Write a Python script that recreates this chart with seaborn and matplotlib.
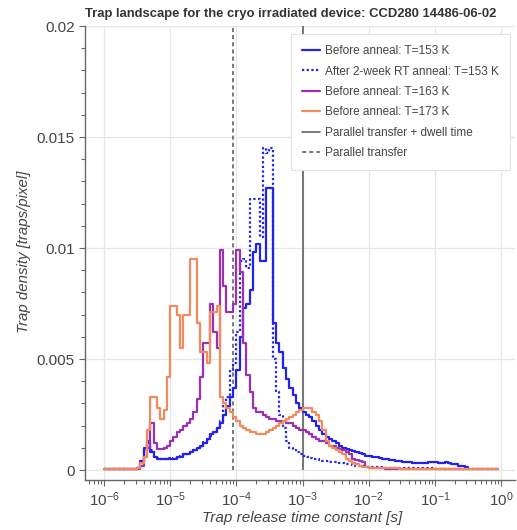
import numpy as np
import pandas as pd
import matplotlib
matplotlib.use("Agg")
import matplotlib.pyplot as plt
from matplotlib.lines import Line2D
from matplotlib.ticker import FixedLocator, LogLocator, MultipleLocator, NullFormatter, FuncFormatter
import seaborn as sns

# ---------------------------------------------------------------------------
# Data: trap density histograms, 20 log-spaced bins per decade from 1e-6 s.
# Values are in units of 1e-3 traps/pixel, one row per decade.
# ---------------------------------------------------------------------------
log_bin_edges = np.round(np.arange(-6.0, 0.0001, 0.05), 2)
bin_edges = 10.0 ** log_bin_edges

density_153K = [
    0.03, 0.03, 0.03, 0.03, 0.03, 0.03, 0.03, 0.03, 0.03, 0.03, 0.1, 0.4, 1.0, 1.3, 0.8, 0.6, 0.5, 0.5, 0.5, 0.5,
    0.5, 0.5, 0.6, 0.6, 0.7, 0.7, 0.8, 0.9, 1.0, 1.1, 1.2, 1.4, 1.6, 1.7, 1.9, 2.1, 2.5, 2.9, 3.3, 3.7,
    4.5, 6.0, 7.3, 7.5, 8.1, 9.8, 10.2, 9.4, 9.4, 12.7, 12.7, 6.6, 5.7, 5.3, 4.6, 4.1, 3.7, 3.4, 3.0, 2.8,
    2.6, 2.5, 2.4, 2.2, 2.0, 1.8, 1.6, 1.5, 1.4, 1.3, 1.2, 1.1, 1.0, 0.95, 0.9, 0.85, 0.8, 0.75, 0.7, 0.65,
    0.62, 0.6, 0.57, 0.54, 0.5, 0.48, 0.45, 0.43, 0.4, 0.4, 0.38, 0.36, 0.34, 0.32, 0.3, 0.3, 0.3, 0.32, 0.38, 0.38,
    0.36, 0.32, 0.3, 0.34, 0.3, 0.27, 0.25, 0.2, 0.18, 0.12,
]

density_153K_annealed = [
    0.03, 0.03, 0.03, 0.03, 0.03, 0.03, 0.03, 0.03, 0.03, 0.03, 0.1, 0.3, 0.9, 1.2, 0.9, 0.6, 0.55, 0.5, 0.5, 0.55,
    0.5, 0.55, 0.6, 0.65, 0.7, 0.75, 0.8, 0.9, 1.0, 1.1, 1.25, 1.4, 1.55, 1.7, 1.9, 2.2, 3.0, 3.3, 4.5, 4.8,
    6.2, 9.4, 9.5, 9.1, 12.2, 12.2, 12.2, 10.5, 14.5, 14.3, 14.5, 5.0, 3.5, 2.5, 1.9, 1.3, 1.0, 0.9, 0.8, 0.7,
    0.65, 0.6, 0.55, 0.5, 0.48, 0.45, 0.42, 0.4, 0.38, 0.36, 0.34, 0.32, 0.3, 0.27, 0.25, 0.22, 0.2, 0.18, 0.16, 0.15,
    0.14, 0.13, 0.13, 0.12, 0.12, 0.11, 0.11, 0.1, 0.1, 0.1, 0.09, 0.09, 0.09, 0.08, 0.08, 0.08, 0.07, 0.07, 0.07, 0.07,
    0.06, 0.06, 0.06, 0.06, 0.06, 0.05, 0.05, 0.05, 0.05, 0.05, 0.05, 0.05, 0.05, 0.05, 0.05, 0.05, 0.05, 0.05, 0.05,
]

density_163K = [
    0.03, 0.03, 0.03, 0.03, 0.03, 0.03, 0.03, 0.03, 0.03, 0.03, 0.03, 0.2, 0.6, 1.0, 2.1, 1.2, 0.95, 0.95, 1.0, 1.1,
    1.3, 1.5, 1.7, 1.8, 2.0, 2.1, 2.3, 2.6, 3.2, 4.2, 5.7, 5.7, 7.5, 6.2, 5.5, 9.9, 8.3, 7.1, 7.1, 7.5,
    9.9, 8.9, 5.7, 4.3, 3.5, 2.8, 2.6, 2.6, 2.5, 2.4, 2.3, 2.3, 2.2, 2.2, 2.2, 2.1, 2.1, 2.0, 1.9, 1.8,
    1.8, 1.7, 1.6, 1.5, 1.4, 1.3, 1.3, 1.2, 1.1, 1.1, 1.0, 0.95, 0.9, 0.8, 0.7, 0.5, 0.45, 0.4, 0.35, 0.12,
    0.09, 0.08, 0.08, 0.07, 0.07, 0.06, 0.06, 0.06, 0.05, 0.05, 0.05, 0.05, 0.05, 0.04, 0.04, 0.04, 0.04, 0.04, 0.04, 0.04,
    0.04, 0.04, 0.04, 0.04, 0.04, 0.04, 0.04, 0.04, 0.04, 0.04, 0.04, 0.04, 0.04, 0.04, 0.04, 0.04, 0.04, 0.04, 0.04,
]

density_173K = [
    0.03, 0.03, 0.03, 0.03, 0.03, 0.03, 0.03, 0.03, 0.03, 0.03, 0.1, 0.3, 0.6, 1.8, 3.3, 3.3, 2.8, 2.3, 2.7, 4.2,
    7.4, 7.4, 7.0, 5.5, 7.0, 7.0, 9.5, 9.5, 6.6, 5.3, 5.3, 4.8, 7.1, 7.1, 7.4, 3.3, 3.0, 2.8, 2.6, 2.4,
    2.2, 2.0, 1.9, 1.8, 1.7, 1.7, 1.6, 1.6, 1.6, 1.7, 1.8, 1.9, 2.0, 2.1, 2.2, 2.3, 2.4, 2.5, 2.6, 2.7,
    2.8, 2.8, 2.8, 2.6, 2.5, 2.2, 1.8, 1.3, 1.1, 1.0, 0.9, 0.8, 0.7, 0.5, 0.4, 0.3, 0.25, 0.2, 0.15, 0.12,
    0.1, 0.1, 0.09, 0.09, 0.08, 0.08, 0.07, 0.07, 0.07, 0.06, 0.06, 0.06, 0.06, 0.05, 0.05, 0.05, 0.05, 0.05, 0.05, 0.05,
    0.05, 0.05, 0.05, 0.05, 0.05, 0.05, 0.05, 0.05, 0.05, 0.05, 0.05, 0.05, 0.05, 0.05, 0.05, 0.05, 0.05, 0.05, 0.05,
]

series_labels = [
    "Before anneal: T=153 K",
    "After 2-week RT anneal: T=153 K",
    "Before anneal: T=163 K",
    "Before anneal: T=173 K",
]
series_values = [density_153K, density_153K_annealed, density_163K, density_173K]

# Reference timescales [s]
parallel_transfer_time = 8.8e-5
parallel_transfer_dwell_time = 1.0e-3
reference_labels = ["Parallel transfer + dwell time", "Parallel transfer"]

title_text = "Trap landscape for the cryo irradiated device: CCD280 14486-06-02"
x_label = "Trap release time constant [s]"
y_label = "Trap density [traps/pixel]"
y_tick_values = [0, 0.005, 0.01, 0.015, 0.02]

# ---------------------------------------------------------------------------
# Styling
# ---------------------------------------------------------------------------
sns.set_style("white")
plt.rcParams["font.family"] = ["Liberation Sans", "DejaVu Sans"]
plt.rcParams["mathtext.fontset"] = "custom"
plt.rcParams["mathtext.rm"] = "Liberation Sans"
plt.rcParams["mathtext.it"] = "Liberation Sans:italic"

text_color = "#444444"
axis_color = "#666666"
grid_color = "#e6e6e6"
series_colors = ["#2222ee", "#2222ee", "#9b30b3", "#f28a5c"]
series_styles = ["-", (0, (1, 1.1)), "-", "-"]
ref_color = "#555555"

W, H = 517, 530
fig = plt.figure(figsize=(W / 100, H / 100), dpi=100)
ax = fig.add_axes([85 / W, (H - 480) / H, 430 / W, 454 / H])

ax.set_xscale("log")
ax.set_xlim(10 ** -6.287, 10 ** 0.21)
ax.set_ylim(-0.00045, 0.02)

# Step histograms drawn through seaborn
for label, values, color, ls in zip(series_labels, series_values, series_colors, series_styles):
    vals = np.asarray(values, dtype=float) * 1e-3
    frame = pd.DataFrame({
        "t": bin_edges[: len(vals) + 1],
        "density": np.append(vals, vals[-1]),
    })
    sns.lineplot(data=frame, x="t", y="density", ax=ax, color=color,
                 linestyle=ls, linewidth=1.6, drawstyle="steps-post",
                 estimator=None, sort=False, legend=False, zorder=3)

# Reference timescales
ax.vlines(parallel_transfer_dwell_time, 0, 0.02, color=ref_color, linewidth=1.1, zorder=2)
ax.vlines(parallel_transfer_time, 0, 0.02, color=ref_color, linewidth=1.1,
          linestyles=[(0, (2.7, 2.0))], zorder=2)

# Axes, ticks and grid
for side in ("top", "right"):
    ax.spines[side].set_visible(False)
for side in ("left", "bottom"):
    ax.spines[side].set_color(axis_color)
    ax.spines[side].set_linewidth(1.0)

ax.xaxis.set_major_locator(FixedLocator([10.0 ** k for k in range(-6, 1)]))
ax.xaxis.set_minor_locator(LogLocator(base=10, subs=np.arange(2, 10), numticks=20))
ax.xaxis.set_major_formatter(FuncFormatter(lambda v, p: r"$\mathregular{10^{%d}}$" % round(np.log10(v))))
ax.xaxis.set_minor_formatter(NullFormatter())

ax.yaxis.set_major_locator(FixedLocator(y_tick_values))
ax.yaxis.set_minor_locator(MultipleLocator(0.001))
ax.yaxis.set_major_formatter(FuncFormatter(lambda v, p: "%g" % round(v, 4)))

ax.tick_params(which="major", direction="out", length=4.5, width=0.8, color=axis_color,
               labelcolor=text_color, labelsize=11, pad=3)
ax.tick_params(which="minor", direction="out", length=2.8, width=0.8, color=axis_color)
ax.tick_params(axis="x", which="both", bottom=True)
ax.tick_params(axis="y", which="both", left=True)

ax.grid(True, which="major", color=grid_color, linewidth=0.9, zorder=0)
ax.set_axisbelow(True)
ax.set_xlabel("")
ax.set_ylabel("")

# Titles and axis labels
fig.text(85 / W, 1 - 14 / H, title_text, ha="left", va="center",
         fontsize=9.4, fontweight="bold", color="#333333")
fig.text(302 / W, 1 - 518 / H, x_label, ha="center", va="center",
         fontsize=11, style="italic", color=text_color)
fig.text(24 / W, 1 - 252 / H, y_label, ha="center", va="center", rotation=90,
         fontsize=10.8, style="italic", color=text_color)

# Legend
handles = [Line2D([], [], color=c, linestyle=ls, linewidth=1.6)
           for c, ls in zip(series_colors, series_styles)]
handles += [Line2D([], [], color=ref_color, linewidth=1.1),
            Line2D([], [], color=ref_color, linewidth=1.1, linestyle=(0, (2.7, 2.0)))]
leg = ax.legend(handles, series_labels + reference_labels, loc="upper right",
                bbox_to_anchor=(510 / W, 1 - 34 / H), bbox_transform=fig.transFigure,
                fontsize=8.5, frameon=True, fancybox=False, framealpha=1,
                edgecolor="#e2e2e2", facecolor="white", labelcolor=text_color,
                handlelength=1.5, handletextpad=0.45, labelspacing=0.71,
                borderpad=0.95, borderaxespad=0)
leg.get_frame().set_linewidth(0.8)
leg.set_zorder(5)

fig.savefig("out.png", dpi=100)
